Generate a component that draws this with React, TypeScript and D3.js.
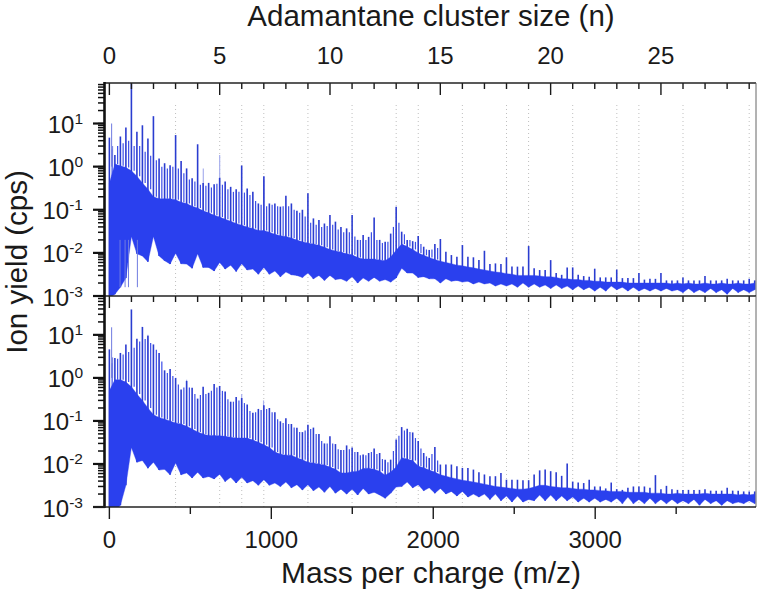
import { useEffect, useRef } from "react";
import * as d3 from "d3";

// m/z of the sampled peaks (four per adamantane unit)
const peakMass = [
  0, 34, 68, 102, 136, 170, 204, 238, 272, 307,
  341, 375, 409, 443, 477, 511, 545, 579, 613, 647,
  681, 715, 749, 783, 817, 851, 886, 920, 954, 988,
  1022, 1056, 1090, 1124, 1158, 1192, 1226, 1260, 1294, 1328,
  1362, 1396, 1430, 1465, 1499, 1533, 1567, 1601, 1635, 1669,
  1703, 1737, 1771, 1805, 1839, 1873, 1907, 1941, 1975, 2010,
  2044, 2078, 2112, 2146, 2180, 2214, 2248, 2282, 2316, 2350,
  2384, 2418, 2452, 2486, 2520, 2554, 2589, 2623, 2657, 2691,
  2725, 2759, 2793, 2827, 2861, 2895, 2929, 2963, 2997, 3031,
  3065, 3099, 3133, 3168, 3202, 3236, 3270, 3304, 3338, 3372,
  3406, 3440, 3474, 3508, 3542, 3576, 3610, 3644, 3678, 3713,
  3747, 3781, 3815, 3849, 3883, 3917, 3951, 3985,
];

const upperPeaks = [
  4.7, 1.85, 5, 8.1, 85, 6.4, 9.1, 4.5, 14.8, 1.55,
  1.2, 1.08, 5.4, 1.36, 0.91, 0.54, 3.3, 0.42, 0.42, 0.39,
  0.55, 0.45, 0.34, 0.3, 1.06, 0.31, 0.26, 0.14, 0.6, 0.14,
  0.14, 0.118, 0.21, 0.14, 0.095, 0.1, 0.24, 0.063, 0.058, 0.048,
  0.076, 0.053, 0.04, 0.037, 0.076, 0.02, 0.026, 0.0235, 0.066, 0.02,
  0.018, 0.028, 0.117, 0.031, 0.02, 0.0187, 0.0245, 0.0139, 0.0117, 0.016,
  0.021, 0.0106, 0.0089, 0.0081, 0.0152, 0.0081, 0.0079, 0.0068, 0.0112, 0.0055,
  0.0057, 0.0055, 0.0079, 0.0048, 0.0048, 0.0048, 0.0144, 0.0044, 0.004, 0.004,
  0.0068, 0.0034, 0.0031, 0.0046, 0.0046, 0.0031, 0.0029, 0.0028, 0.0043, 0.0027,
  0.0027, 0.0027, 0.0041, 0.0026, 0.0026, 0.0026, 0.0034, 0.0024, 0.0025, 0.0025,
  0.0034, 0.0023, 0.0023, 0.0023, 0.0027, 0.0023, 0.0023, 0.0023, 0.0029, 0.0023,
  0.0023, 0.0023, 0.0025, 0.0023, 0.0023, 0.0023, 0.0025, 0.0023,
];

const upperCore = [
  0.41, 1.15, 1.05, 0.95, 0.8, 0.6, 0.42, 0.3, 0.2, 0.18,
  0.18, 0.18, 0.17, 0.15, 0.14, 0.12, 0.11, 0.095, 0.085, 0.075,
  0.068, 0.06, 0.054, 0.048, 0.044, 0.04, 0.037, 0.033, 0.033, 0.03,
  0.027, 0.025, 0.024, 0.022, 0.02, 0.018, 0.017, 0.016, 0.015, 0.0135,
  0.012, 0.011, 0.0105, 0.0095, 0.009, 0.0078, 0.0072, 0.0072, 0.0072, 0.0068,
  0.0066, 0.008, 0.0115, 0.016, 0.014, 0.012, 0.01, 0.0088, 0.0078, 0.007,
  0.0064, 0.006, 0.0056, 0.0052, 0.005, 0.0047, 0.0045, 0.0042, 0.004, 0.0038,
  0.0036, 0.0035, 0.0033, 0.0032, 0.003, 0.003, 0.003, 0.003, 0.0029, 0.0028,
  0.0028, 0.0027, 0.0025, 0.0025, 0.0024, 0.0024, 0.0023, 0.0023, 0.0022, 0.0022,
  0.0021, 0.0021, 0.0021, 0.0021, 0.002, 0.002, 0.002, 0.002, 0.002, 0.002,
  0.002, 0.002, 0.0019, 0.002, 0.0019, 0.002, 0.0019, 0.0019, 0.002, 0.0019,
  0.0019, 0.002, 0.0019, 0.0019, 0.002, 0.0019, 0.0019, 0.002,
];

const upperFloor = [
  0.0009, 0.0011, 0.0016, 0.0026, 0.024, 0.0095, 0.0085, 0.0062, 0.024, 0.0085,
  0.0066, 0.0055, 0.0098, 0.0056, 0.0055, 0.0044, 0.0095, 0.0046, 0.0046, 0.0038,
  0.006, 0.0042, 0.0052, 0.0037, 0.0056, 0.004, 0.0042, 0.0032, 0.0046, 0.0032,
  0.0038, 0.0028, 0.0036, 0.0031, 0.003, 0.0027, 0.0034, 0.0025, 0.003, 0.0023,
  0.003, 0.0024, 0.0025, 0.0022, 0.0028, 0.002, 0.0026, 0.0022, 0.0027, 0.0022,
  0.0024, 0.0021, 0.0026, 0.0044, 0.0034, 0.0034, 0.0027, 0.0028, 0.0025, 0.0025,
  0.002, 0.0025, 0.0022, 0.0023, 0.0021, 0.0022, 0.0019, 0.0021, 0.0019, 0.002,
  0.0017, 0.0019, 0.0017, 0.0019, 0.0016, 0.002, 0.0016, 0.0019, 0.0016, 0.0018,
  0.0015, 0.0018, 0.0015, 0.0017, 0.0014, 0.0017, 0.0014, 0.0016, 0.0013, 0.0016,
  0.0013, 0.0017, 0.0014, 0.0016, 0.0013, 0.0016, 0.0013, 0.0015, 0.0013, 0.0015,
  0.0013, 0.0015, 0.0013, 0.0014, 0.0012, 0.0015, 0.0012, 0.0014, 0.0012, 0.0015,
  0.0012, 0.0014, 0.0011, 0.0015, 0.0012, 0.0014, 0.0012, 0.0014,
];

const lowerPeaks = [
  4.6, 2.9, 3.8, 6, 39, 8.1, 15.3, 9.6, 6, 3.8,
  1.5, 1.6, 1, 0.54, 0.85, 0.59, 0.33, 0.62, 0.45, 0.72,
  0.65, 0.48, 0.28, 0.36, 0.34, 0.24, 0.155, 0.19, 0.23, 0.2,
  0.16, 0.098, 0.115, 0.085, 0.069, 0.055, 0.082, 0.07, 0.05, 0.03,
  0.044, 0.029, 0.021, 0.027, 0.024, 0.019, 0.0165, 0.018, 0.023, 0.018,
  0.0126, 0.0126, 0.037, 0.072, 0.066, 0.054, 0.034, 0.018, 0.0138, 0.0248,
  0.0097, 0.0097, 0.0097, 0.0088, 0.0081, 0.0081, 0.0074, 0.0064, 0.0057, 0.0052,
  0.0052, 0.0062, 0.0043, 0.0043, 0.0043, 0.0042, 0.0042, 0.0057, 0.0071, 0.0074,
  0.0068, 0.0064, 0.0053, 0.0102, 0.0039, 0.0037, 0.0036, 0.0043, 0.003, 0.003,
  0.0027, 0.0037, 0.0026, 0.0025, 0.0028, 0.003, 0.003, 0.003, 0.0028, 0.0055,
  0.0026, 0.0031, 0.0026, 0.0025, 0.0025, 0.0025, 0.0025, 0.0025, 0.0026, 0.0024,
  0.0024, 0.0024, 0.0028, 0.0024, 0.0024, 0.0023, 0.0023, 0.0023,
];

const lowerCore = [
  0.5, 0.9, 0.9, 0.8, 0.62, 0.42, 0.3, 0.2, 0.14, 0.12,
  0.11, 0.1, 0.09, 0.085, 0.075, 0.065, 0.055, 0.05, 0.046, 0.046,
  0.045, 0.044, 0.042, 0.04, 0.04, 0.04, 0.036, 0.032, 0.028, 0.024,
  0.019, 0.017, 0.016, 0.016, 0.014, 0.0125, 0.011, 0.0105, 0.01, 0.0095,
  0.0085, 0.0075, 0.0062, 0.0062, 0.0066, 0.0068, 0.0078, 0.008, 0.0075, 0.0068,
  0.0055, 0.0065, 0.0085, 0.014, 0.013, 0.012, 0.009, 0.0082, 0.0072, 0.0065,
  0.0056, 0.0052, 0.0048, 0.0045, 0.0042, 0.004, 0.0038, 0.0036, 0.0034, 0.0032,
  0.003, 0.0029, 0.0028, 0.0027, 0.0026, 0.0026, 0.0027, 0.0029, 0.0032, 0.0032,
  0.003, 0.0029, 0.0028, 0.0028, 0.0027, 0.0026, 0.0026, 0.0025, 0.0025, 0.0024,
  0.0024, 0.0023, 0.0023, 0.0023, 0.0022, 0.0022, 0.0022, 0.0022, 0.0021, 0.0021,
  0.0021, 0.002, 0.002, 0.0021, 0.002, 0.002, 0.002, 0.002, 0.0021, 0.002,
  0.002, 0.002, 0.002, 0.002, 0.0019, 0.002, 0.0019, 0.002,
];

const lowerFloor = [
  0.0009, 0.0008, 0.0011, 0.0032, 0.024, 0.011, 0.012, 0.008, 0.011, 0.0072,
  0.0075, 0.0056, 0.0105, 0.0056, 0.0062, 0.0047, 0.0064, 0.0047, 0.0051, 0.0045,
  0.0058, 0.0039, 0.0049, 0.0036, 0.0049, 0.0036, 0.0041, 0.0032, 0.0043, 0.0032,
  0.0036, 0.003, 0.0038, 0.0028, 0.0033, 0.0025, 0.0033, 0.0024, 0.0029, 0.0022,
  0.003, 0.0021, 0.0026, 0.002, 0.0026, 0.0019, 0.0027, 0.002, 0.0022, 0.0019,
  0.0016, 0.0021, 0.0029, 0.003, 0.0038, 0.0028, 0.0033, 0.0024, 0.0028, 0.0021,
  0.0027, 0.002, 0.0023, 0.0018, 0.0023, 0.0017, 0.002, 0.0017, 0.002, 0.0015,
  0.002, 0.0014, 0.0018, 0.0013, 0.0018, 0.0013, 0.0015, 0.0014, 0.0019, 0.0014,
  0.0019, 0.0014, 0.0018, 0.0014, 0.0017, 0.0013, 0.0016, 0.0013, 0.0016, 0.0013,
  0.0015, 0.0013, 0.0016, 0.0012, 0.0017, 0.0012, 0.0015, 0.0012, 0.0016, 0.0012,
  0.0015, 0.0012, 0.0015, 0.0012, 0.0014, 0.0012, 0.0015, 0.0011, 0.0015, 0.0012,
  0.0014, 0.0011, 0.0014, 0.0012, 0.0013, 0.0012, 0.0014, 0.0012,
];

// smaller lines sitting between the main peaks
const midMass = [
  17, 51, 85, 119, 153, 187, 221, 255, 290, 324,
  358, 392, 426, 460, 494, 528, 562, 596, 630, 664,
  698, 732, 766, 800, 834, 868, 903, 937, 971, 1005,
  1039, 1073, 1107, 1141, 1175, 1209, 1243, 1277, 1311, 1345,
  1379, 1413, 1447, 1482, 1516, 1550, 1584, 1618, 1652, 1686,
  1720, 1754, 1788, 1822, 1856, 1890, 1924, 1958, 1992, 2027,
];

const upperMid = [
  2.5, 3, 3.5, 4, 3, 3, 2.2, 1.8, 1.4, 1.0,
  0.9, 1.0, 0.9, 0.7, 0.5, 0.45, 0.38, 0.36, 0.33, 0.4,
  0.38, 0.3, 0.26, 0.26, 0.25, 0.22, 0.16, 0.13, 0.12, 0.13,
  0.12, 0.12, 0.12, 0.1, 0.085, 0.07, 0.05, 0.045, 0.04, 0.042,
  0.045, 0.035, 0.03, 0.03, 0.024, 0.02, 0.02, 0.03, 0.02, 0.017,
  0.018, 0.04, 0.05, 0.027, 0.02, 0.018, 0.016, 0.012, 0.012, 0.013,
];

const lowerMid = [
  2.2, 2.8, 3.5, 4, 5, 7, 8, 6.5, 4.5, 2.4,
  1.3, 1.1, 0.7, 0.6, 0.6, 0.42, 0.4, 0.42, 0.5, 0.6,
  0.5, 0.32, 0.28, 0.3, 0.26, 0.17, 0.16, 0.18, 0.19, 0.16,
  0.11, 0.09, 0.085, 0.07, 0.055, 0.06, 0.065, 0.05, 0.034, 0.03,
  0.03, 0.022, 0.021, 0.022, 0.019, 0.016, 0.016, 0.019, 0.017, 0.013,
  0.011, 0.02, 0.045, 0.06, 0.055, 0.04, 0.023, 0.015, 0.017, 0.012,
];

// isolated lines outside the four-per-unit pattern
const upperExtraMass = [14, 20];
const upperExtraTop = [10, 3];
const lowerExtraMass = [14, 20];
const lowerExtraTop = [15, 3];
const upperFadedMass = [681, 954, 580];
const upperFadedTop = [1.85, 0.5, 0.9];
const lowerFadedMass = [238, 477, 817, 952];
const lowerFadedTop = [10, 0.9, 0.42, 0.3];
const upperDropMass = [66, 97, 118, 173];
const upperDropBottom = [0.0016, 0.0016, 0.0016, 0.0016];

const clusterGrid = [3, 5, 6, 7, 9, 11, 13, 14, 16, 18, 19, 21, 23, 24, 26, 29];
const massTicks = [0, 500, 1000, 1500, 2000, 2500, 3000, 3500];
const massLabels = [0, 1000, 2000, 3000];
const clusterTicks = d3.range(0, 30);
const clusterLabels = [0, 5, 10, 15, 20, 25];
const decades = [-3, -2, -1, 0, 1];
const amu = 136.24;

const W = 760;
const H = 599;
const left = 105;
const right = 756;
const blue = "#2b40ee";
const font = "'Liberation Sans', Arial, sans-serif";

export default function App() {
  const svgRef = useRef<SVGSVGElement>(null);

  useEffect(() => {
    if (!svgRef.current) return;
    const svg = d3.select(svgRef.current);
    svg.selectAll("*").remove();

    svg
      .append("filter")
      .attr("id", "soft")
      .attr("x", "-2%")
      .attr("y", "-2%")
      .attr("width", "104%")
      .attr("height", "104%")
      .append("feGaussianBlur")
      .attr("stdDeviation", 0.35);

    const x = d3.scaleLinear().domain([-27, 3993]).range([left, right]);
    const n = d3
      .scaleLinear()
      .domain([-27 / amu, 3993 / amu])
      .range([left, right]);

    const drawPanel = (
      id: string,
      top: number,
      bottom: number,
      yTop: number,
      peaks: number[],
      core: number[],
      floor: number[],
      mid: number[],
      extraMass: number[],
      extraTop: number[],
      fadedMass: number[],
      fadedTop: number[],
      gridTop: number
    ) => {
      const y = d3.scaleLog().domain([0.001, yTop]).range([bottom, top]);

      svg
        .append("clipPath")
        .attr("id", id)
        .append("rect")
        .attr("x", left)
        .attr("y", top)
        .attr("width", right - left)
        .attr("height", bottom - top);

      const g = svg
        .append("g")
        .attr("clip-path", `url(#${id})`)
        .append("g")
        .attr("filter", "url(#soft)");

      g.selectAll(".grid")
        .data(clusterGrid)
        .join("line")
        .attr("x1", (d) => n(d))
        .attr("x2", (d) => n(d))
        .attr("y1", gridTop)
        .attr("y2", bottom)
        .attr("stroke", "#b8b8b8")
        .attr("stroke-width", 0.9)
        .attr("stroke-dasharray", "1 3");

      const band = d3
        .area<number>()
        .x((d) => x(d))
        .y0((_, i) => y(floor[i]))
        .y1((_, i) => y(core[i]));

      g.selectAll(".faded")
        .data(fadedMass)
        .join("line")
        .attr("x1", (d) => x(d))
        .attr("x2", (d) => x(d))
        .attr("y1", (_, i) => y(fadedTop[i]))
        .attr("y2", y(0.02))
        .attr("stroke", "#a9b0ee")
        .attr("stroke-width", 1.2);

      g.selectAll(".mid")
        .data(midMass)
        .join("line")
        .attr("x1", (d) => x(d))
        .attr("x2", (d) => x(d))
        .attr("y1", (_, i) => y(mid[i]))
        .attr("y2", (_, i) => y(core[i]))
        .attr("stroke", "#3a4de8")
        .attr("stroke-width", 1.2);

      g.selectAll(".peak")
        .data(peakMass)
        .join("line")
        .attr("x1", (d) => x(d))
        .attr("x2", (d) => x(d))
        .attr("y1", (_, i) => y(peaks[i]))
        .attr("y2", (_, i) => y(floor[i]))
        .attr("stroke", "#2c3cd0")
        .attr("stroke-width", 1.6);

      g.append("path")
        .attr("d", band(peakMass))
        .attr("fill", blue)
        .attr("stroke", blue)
        .attr("stroke-width", 0.4);

      g.selectAll(".extra")
        .data(extraMass)
        .join("line")
        .attr("x1", (d) => x(d))
        .attr("x2", (d) => x(d))
        .attr("y1", (_, i) => y(extraTop[i]))
        .attr("y2", y(1))
        .attr("stroke", "#6f7be0")
        .attr("stroke-width", 1);

      // log ticks on the left
      const axisL = svg.append("g").attr("transform", `translate(${left},0)`);
      const minor = decades.flatMap((d) =>
        d3.range(1, 10).map((k) => k * 10 ** d)
      );
      axisL
        .selectAll(".minor")
        .data(minor.filter((v) => y(v) >= top - 0.5))
        .join("line")
        .attr("x1", -7)
        .attr("x2", 0)
        .attr("y1", (d) => y(d))
        .attr("y2", (d) => y(d))
        .attr("stroke", "#111")
        .attr("stroke-width", 1.5);
      axisL
        .selectAll(".major")
        .data(decades)
        .join("line")
        .attr("x1", -12)
        .attr("x2", 0)
        .attr("y1", (d) => y(10 ** d))
        .attr("y2", (d) => y(10 ** d))
        .attr("stroke", "#111")
        .attr("stroke-width", 2.2);
      axisL
        .selectAll(".lab")
        .data(decades)
        .join("text")
        .attr("x", -22)
        .attr("y", (d) => y(10 ** d) + 9.5)
        .attr("text-anchor", "end")
        .attr("font-family", font)
        .attr("font-size", 24)
        .attr("fill", "#1a1a1a")
        .each(function (d) {
          const t = d3.select(this);
          t.append("tspan").text("10");
          t.append("tspan")
            .attr("font-size", 15.5)
            .attr("dy", -9)
            .text(d < 0 ? `-${-d}` : `${d}`);
        });

      // cluster size ticks pointing in from the panel top
      svg
        .append("g")
        .selectAll("line")
        .data(clusterTicks)
        .join("line")
        .attr("x1", (d) => n(d))
        .attr("x2", (d) => n(d))
        .attr("y1", top)
        .attr("y2", (d) => top + (d % 5 === 0 ? 12 : 6))
        .attr("stroke", "#1a1a1a")
        .attr("stroke-width", 1.4);

      svg
        .append("line")
        .attr("x1", left)
        .attr("x2", right)
        .attr("y1", top)
        .attr("y2", top)
        .attr("stroke", "#222")
        .attr("stroke-width", 1.4);
      svg
        .append("line")
        .attr("x1", right)
        .attr("x2", right)
        .attr("y1", top)
        .attr("y2", bottom)
        .attr("stroke", "#666")
        .attr("stroke-width", 1);

      return { g, y };
    };

    const upper = drawPanel(
      "upper",
      83,
      296,
      87,
      upperPeaks,
      upperCore,
      upperFloor,
      upperMid,
      upperExtraMass,
      upperExtraTop,
      upperFadedMass,
      upperFadedTop,
      105
    );
    upper.g
      .selectAll(".drop")
      .data(upperDropMass)
      .join("line")
      .attr("x1", (d) => x(d))
      .attr("x2", (d) => x(d))
      .attr("y1", upper.y(0.02))
      .attr("y2", (_, i) => upper.y(upperDropBottom[i]))
      .attr("stroke", "#6f7be0")
      .attr("stroke-width", 1);

    drawPanel(
      "lower",
      296,
      507,
      80,
      lowerPeaks,
      lowerCore,
      lowerFloor,
      lowerMid,
      lowerExtraMass,
      lowerExtraTop,
      lowerFadedMass,
      lowerFadedTop,
      310
    );

    // left spine, bottom spine and m/z ticks
    svg
      .append("line")
      .attr("x1", left - 0.5)
      .attr("x2", left - 0.5)
      .attr("y1", 82)
      .attr("y2", 508)
      .attr("stroke", "#111")
      .attr("stroke-width", 2.6);
    svg
      .append("line")
      .attr("x1", left - 12)
      .attr("x2", right)
      .attr("y1", 507)
      .attr("y2", 507)
      .attr("stroke", "#222")
      .attr("stroke-width", 1.6);
    svg
      .append("g")
      .selectAll("line")
      .data(massTicks)
      .join("line")
      .attr("x1", (d) => x(d))
      .attr("x2", (d) => x(d))
      .attr("y1", 507)
      .attr("y2", (d) => 507 + (d % 1000 === 0 ? 12 : 7))
      .attr("stroke", "#1a1a1a")
      .attr("stroke-width", 1.4);

    const labels = svg
      .append("g")
      .attr("font-family", font)
      .attr("fill", "#1a1a1a")
      .attr("text-anchor", "middle");
    labels
      .selectAll(".mass")
      .data(massLabels)
      .join("text")
      .attr("x", (d) => x(d))
      .attr("y", 548)
      .attr("font-size", 24)
      .text((d) => d);
    labels
      .selectAll(".cluster")
      .data(clusterLabels)
      .join("text")
      .attr("x", (d) => n(d))
      .attr("y", 64)
      .attr("font-size", 24)
      .text((d) => d);
    labels
      .append("text")
      .attr("x", 431)
      .attr("y", 26)
      .attr("font-size", 29.5)
      .text("Adamantane cluster size (n)");
    labels
      .append("text")
      .attr("x", 431)
      .attr("y", 583)
      .attr("font-size", 30)
      .text("Mass per charge (m/z)");
    labels
      .append("text")
      .attr("transform", "translate(27,262) rotate(-90)")
      .attr("font-size", 29.5)
      .text("Ion yield (cps)");
  }, []);

  return (
    <svg
      ref={svgRef}
      width={W}
      height={H}
      viewBox={`0 0 ${W} ${H}`}
      style={{ position: "absolute", left: 0, top: 0, background: "#fff" }}
    />
  );
}
